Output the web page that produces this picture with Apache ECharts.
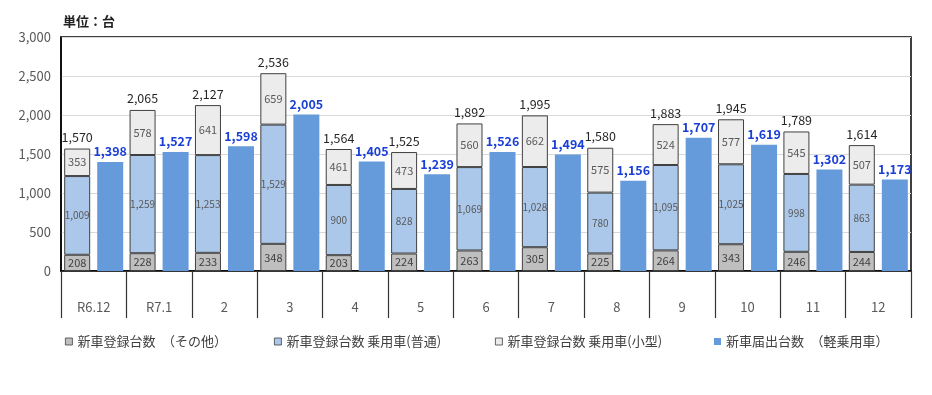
<!DOCTYPE html>
<html><head><meta charset="utf-8">
<script src="https://cdn.jsdelivr.net/npm/echarts@6/dist/echarts.min.js"></script>
<style>html,body{margin:0;padding:0;background:#fff}#c{width:932px;height:395px}</style>
</head><body><div id="c"></div>
<script>
const categories = ['R6.12','R7.1','2','3','4','5','6','7','8','9','10','11','12'];
const otherVals = [208,228,233,348,203,224,263,305,225,264,343,246,244];
const regularVals = [1009,1259,1253,1529,900,828,1069,1028,780,1095,1025,998,863];
const smallVals = [353,578,641,659,461,473,560,662,575,524,577,545,507];
const keiVals = [1398,1527,1598,2005,1405,1239,1526,1494,1156,1707,1619,1302,1173];
const totalVals = [1570,2065,2127,2536,1564,1525,1892,1995,1580,1883,1945,1789,1614];
const yTicks = [0,500,1000,1500,2000,2500,3000];
const names = ['新車登録台数　（その他）','新車登録台数 乗用車(普通)','新車登録台数 乗用車(小型)','新車届出台数　（軽乗用車）'];

const FONT = '"Noto Sans CJK JP", sans-serif';
const fmt = v => Number(v).toLocaleString('en-US');
const chart = echarts.init(document.getElementById('c'));
const segBorder = {borderColor:'#404040', borderWidth:1};
const legendLefts = [60, 269, 490, 709];
chart.setOption({
  animation:false,
  textStyle:{fontFamily:FONT},
  title:{text:'単位：台', left:58, top:10, textStyle:{fontSize:13, fontWeight:'bold', color:'#222', fontFamily:FONT}},
  legend: names.map((n,i)=>({data:[n], left:legendLefts[i], top:330, icon:'rect', itemWidth:7, itemHeight:7, itemGap:3,
    itemStyle:{borderWidth:0.8},
    textStyle:{fontSize:13, color:'#404040', fontFamily:FONT}})),
  grid:{left:61, right:21, top:37, bottom:124, show:true, borderColor:'#000', borderWidth:1.5},
  xAxis:{type:'category', data:categories,
    axisLine:{lineStyle:{color:'#000', width:1.5}},
    axisTick:{show:true, length:47, interval:0, lineStyle:{color:'#333', width:1.2}},
    axisLabel:{margin:30, fontSize:13, color:'#595959', fontFamily:FONT}},
  yAxis:{type:'value', min:0, max:3000, interval:500,
    axisLine:{show:true, lineStyle:{color:'#000', width:1.5}},
    axisLabel:{fontSize:13, color:'#595959', margin:10, formatter:v=>fmt(v), fontFamily:FONT},
    splitLine:{lineStyle:{color:'#d9d9d9'}}},
  series:[
    {name:names[0], type:'bar', stack:'reg', data:otherVals, barWidth:26, barGap:'27%',
      itemStyle:Object.assign({color:'#bfbfbf'}, segBorder),
      label:{show:true, position:'inside', fontSize:11, color:'#404040', formatter:p=>fmt(p.value)}},
    {name:names[1], type:'bar', stack:'reg', data:regularVals,
      itemStyle:Object.assign({color:'#abc7ea'}, segBorder),
      label:{show:true, position:'inside', fontSize:10, color:'#595959', formatter:p=>fmt(p.value)}},
    {name:names[2], type:'bar', stack:'reg', data:smallVals,
      itemStyle:Object.assign({color:'#ececec'}, segBorder),
      label:{show:true, position:'inside', fontSize:11, color:'#595959', formatter:p=>fmt(p.value)}},
    {name:'total', type:'bar', stack:'reg', data:totalVals.map(()=>0),
      itemStyle:{color:'transparent', borderWidth:0},
      label:{show:true, position:'top', distance:5, fontSize:12.5, color:'#262626', fontWeight:'normal',
        formatter:p=>fmt(totalVals[p.dataIndex])}},
    {name:names[3], type:'bar', data:keiVals, barWidth:26,
      itemStyle:{color:'#659bdb'},
      label:{show:true, position:'top', distance:4, fontSize:12.5, color:'#1a3fd6', fontWeight:'bold', formatter:p=>fmt(p.value)}}
  ]
});
</script></body></html>
